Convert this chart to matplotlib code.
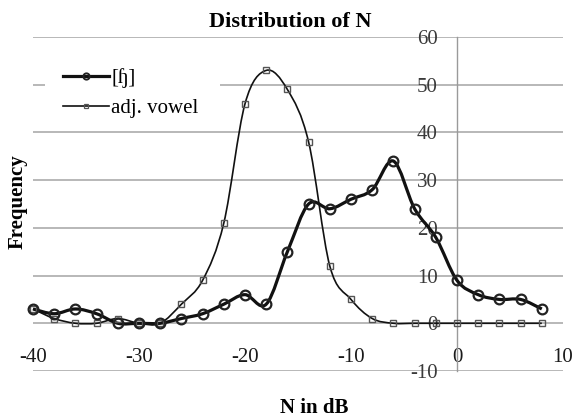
import matplotlib
matplotlib.use("Agg")
import matplotlib.pyplot as plt
from matplotlib.path import Path
from matplotlib.patches import PathPatch, Rectangle
from matplotlib.lines import Line2D
import numpy as np

# Data
n_db = [-40, -38, -36, -34, -32, -30, -28, -26, -24, -22, -20, -18, -16,
        -14, -12, -10, -8, -6, -4, -2, 0, 2, 4, 6, 8]
freq_fricative = [3, 2, 3, 2, 0, 0, 0, 1, 2, 4, 6, 4, 15,
                  25, 24, 26, 28, 34, 24, 18, 9, 6, 5, 5, 3]
freq_vowel = [3, 1, 0, 0, 1, 0, 0, 4, 9, 21, 46, 53, 49,
              38, 12, 5, 1, 0, 0, 0, 0, 0, 0, 0, 0]
series_labels = ["[ɧ]", "adj. vowel"]
x_ticks = [-40, -30, -20, -10, 0, 10]
y_ticks = [-10, 0, 10, 20, 30, 40, 50, 60]

FONT = ["Liberation Serif", "DejaVu Serif"]
plt.rcParams["font.family"] = FONT


def smooth_path(xs, ys):
    """Cubic Bezier path through the points (spreadsheet-style smoothed line)."""
    p = np.column_stack([xs, ys]).astype(float)
    n = len(p)
    verts = [p[0]]
    codes = [Path.MOVETO]
    for i in range(n - 1):
        p0 = p[i - 1] if i > 0 else p[i]
        p1 = p[i]
        p2 = p[i + 1]
        p3 = p[i + 2] if i + 2 < n else p[i + 1]
        c1 = p1 + (p2 - p0) / 6.0
        c2 = p2 - (p3 - p1) / 6.0
        verts += [c1, c2, p2]
        codes += [Path.CURVE4] * 3
    return Path(verts, codes)


W, H = 580, 419
fig = plt.figure(figsize=(W / 100, H / 100), dpi=100)
ax = fig.add_axes([33 / W, 1 - 371 / H, 530 / W, 334 / H])

ax.set_xlim(-40, 10)
ax.set_ylim(-10, 60)

# horizontal gridlines
ax.set_yticks(y_ticks)
ax.set_xticks(x_ticks)
ax.yaxis.grid(True, color="#ababab", linewidth=1.2)
ax.xaxis.grid(False)
ax.set_axisbelow(True)

for side in ("top", "right"):
    ax.spines[side].set_visible(False)
ax.spines["left"].set_position(("data", 0))
ax.spines["left"].set_color("#9a9a9a")
ax.spines["left"].set_linewidth(1.0)
ax.spines["bottom"].set_position(("data", 0))
ax.spines["bottom"].set_visible(False)

ax.tick_params(axis="y", length=0, pad=14, labelsize=15, labelcolor="#3a3a3a")
ax.tick_params(axis="x", length=0, pad=18, labelsize=15, labelcolor="#1a1a1a")
ax.set_yticklabels([str(v) for v in y_ticks])
ax.set_xticklabels([str(v) for v in x_ticks])

# smoothed lines
ax.add_patch(PathPatch(smooth_path(n_db, freq_vowel), fill=False,
                       edgecolor="#111111", linewidth=1.2, clip_on=False,
                       zorder=3))
ax.add_patch(PathPatch(smooth_path(n_db, freq_fricative), fill=False,
                       edgecolor="#111111", linewidth=2.3, clip_on=False,
                       zorder=4))

# markers
ax.plot(n_db, freq_vowel, linestyle="none", marker="s", markersize=4.5,
        markerfacecolor="none", markeredgecolor="#555555",
        markeredgewidth=1.0, clip_on=False, zorder=5)
ax.plot(n_db, freq_fricative, linestyle="none", marker="o", markersize=7,
        markerfacecolor="none", markeredgecolor="#222222",
        markeredgewidth=1.6, clip_on=False, zorder=6)

# white legend area over the gridlines
ax.add_patch(Rectangle((45 / W, 1 - 120 / H), 175 / W, 58 / H,
                       transform=fig.transFigure, facecolor="white",
                       edgecolor="none", zorder=1, clip_on=False))

handles = [
    Line2D([], [], color="#111111", linewidth=2.3, marker="o", markersize=4.5,
           markerfacecolor="none", markeredgecolor="#222222",
           markeredgewidth=1.4),
    Line2D([], [], color="#111111", linewidth=1.2, marker="s", markersize=3.2,
           markerfacecolor="none", markeredgecolor="#555555",
           markeredgewidth=0.9),
]
leg = ax.legend(handles, series_labels, loc="upper left",
                bbox_to_anchor=(60 / W, 1 - 65 / H),
                bbox_transform=fig.transFigure, frameon=False,
                fontsize=15, handlelength=2.2, handletextpad=0.1,
                labelspacing=0.5, borderpad=0.15, borderaxespad=0)
leg.set_zorder(7)

fig.text(290 / W, 1 - 27 / H, "Distribution of N", ha="center",
         va="baseline", fontsize=16, fontweight="bold")
fig.text(314 / W, 1 - 413 / H, "N in dB", ha="center", va="baseline",
         fontsize=15, fontweight="bold")
fig.text(18 / W, 1 - 202 / H, "Frequency", ha="center", va="center",
         rotation=90, fontsize=15, fontweight="bold")

fig.savefig("out.png", dpi=100)
